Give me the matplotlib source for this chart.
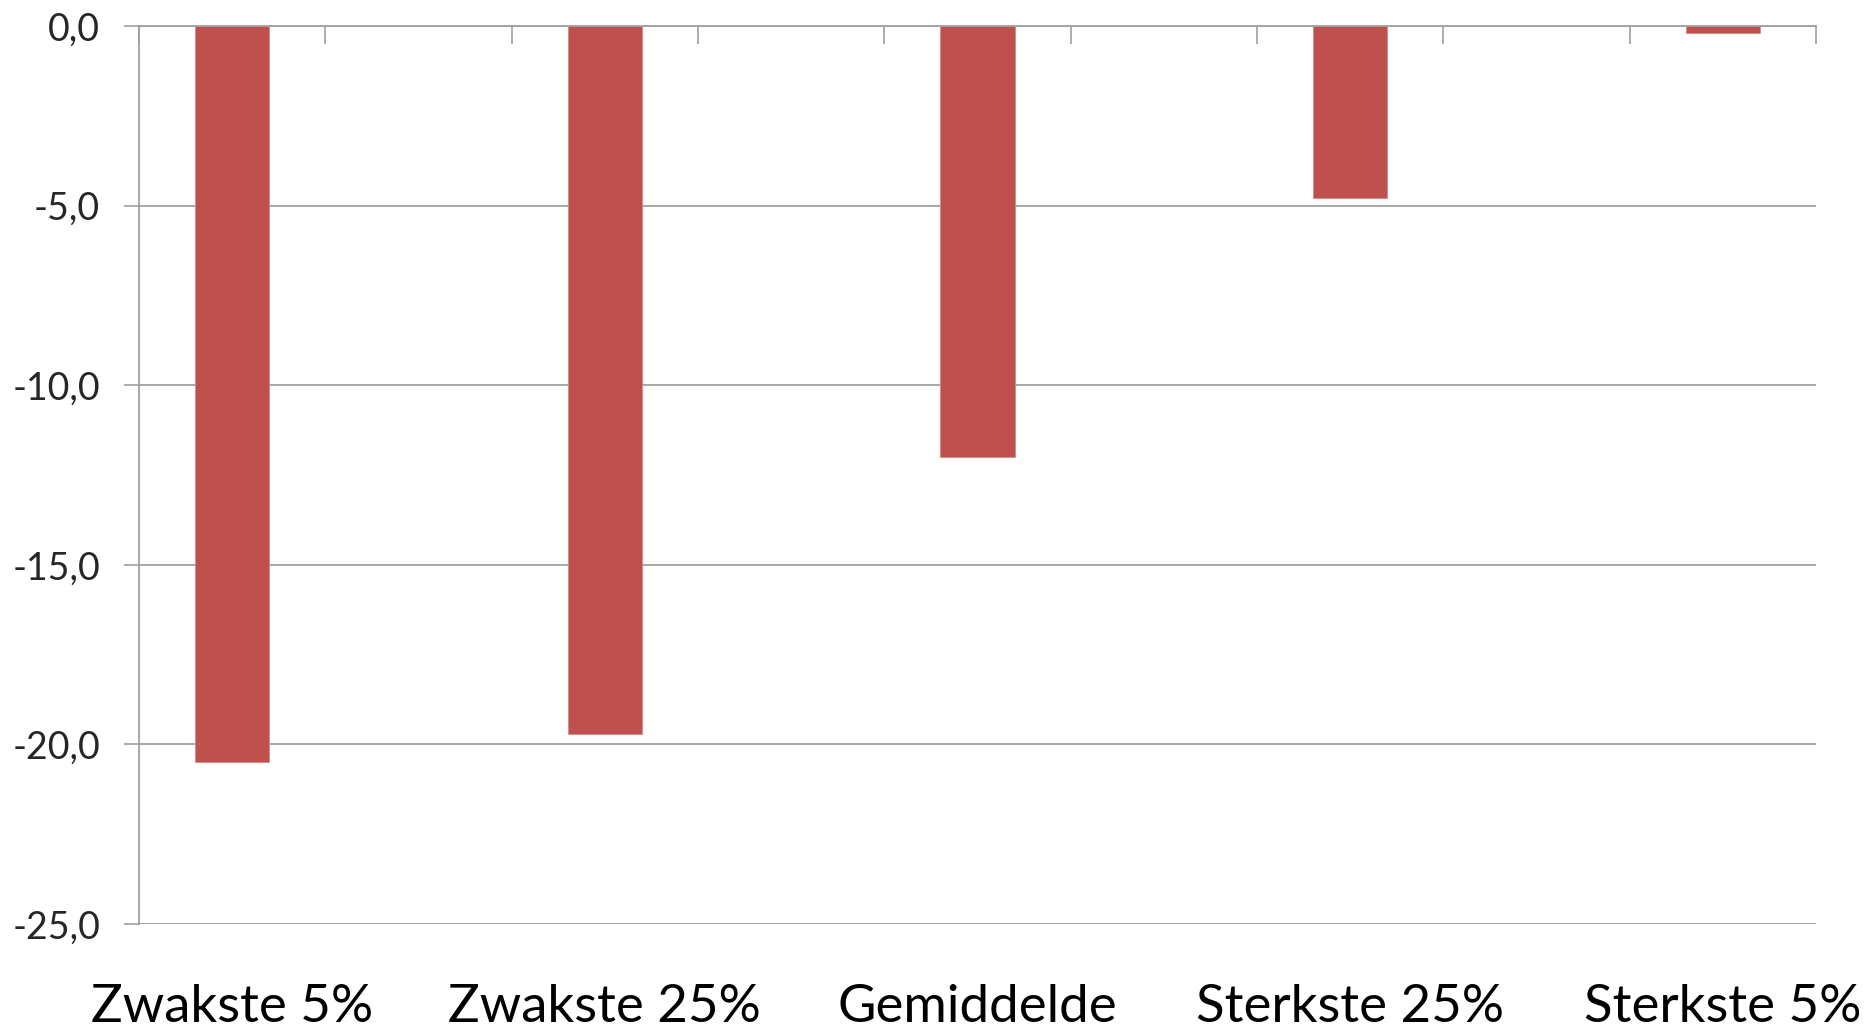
import matplotlib.pyplot as plt
import numpy as np

plt.rcParams['font.family'] = ['Lato', 'DejaVu Sans']

# Excel-style category axis: blank slots between the labelled groups
categories = ["Zwakste 5%", "", "Zwakste 25%", "", "Gemiddelde", "",
              "Sterkste 25%", "", "Sterkste 5%"]
values = [-20.5, np.nan, -19.7, np.nan, -12.0, np.nan, -4.8, np.nan, -0.2]
y_ticks = [0.0, -5.0, -10.0, -15.0, -20.0, -25.0]

bar_color = "#C0504D"
grid_color = "#A0A0A0"

fig = plt.figure(figsize=(18.75, 10.27), dpi=100)
ax = fig.add_axes([0.0741, 0.1003, 0.8944, 0.8744])

x = np.arange(len(categories))
mask = ~np.isnan(values)
ax.bar(x[mask], np.array(values)[mask], width=0.4, color=bar_color,
       edgecolor="#D98A88", linewidth=0.6, zorder=3)

ax.set_xlim(-0.5, len(categories) - 0.5)
ax.set_ylim(-25, 0)

# y axis
ax.set_yticks(y_ticks)
ax.set_yticklabels([f"{v:.1f}".replace(".", ",") for v in y_ticks],
                   fontsize=27, color="#262626")
ax.tick_params(axis="y", which="major", direction="out", length=11,
               width=1.2, color=grid_color, pad=17)
ax.yaxis.grid(True, color=grid_color, linewidth=1.3, zorder=0)

# x axis: line at 0 (top), ticks between categories, labels at the bottom
ax.set_xticks(np.arange(len(categories) + 1) - 0.5)
ax.set_xticklabels([])
ax.tick_params(axis="x", which="major", top=True, bottom=False,
               direction="in", length=13, width=1.2, color=grid_color,
               labeltop=False, labelbottom=False)
ax.set_xticks(x, categories, minor=True)
ax.tick_params(axis="x", which="minor", top=False, bottom=True, length=0,
               labelsize=38, pad=43, labelcolor="#000000")

for side in ["right", "bottom"]:
    ax.spines[side].set_visible(False)
for side in ["top", "left"]:
    ax.spines[side].set_color(grid_color)
    ax.spines[side].set_linewidth(1.3)
ax.spines["top"].set_zorder(4)

fig.savefig("out.png", dpi=100, facecolor="white")
